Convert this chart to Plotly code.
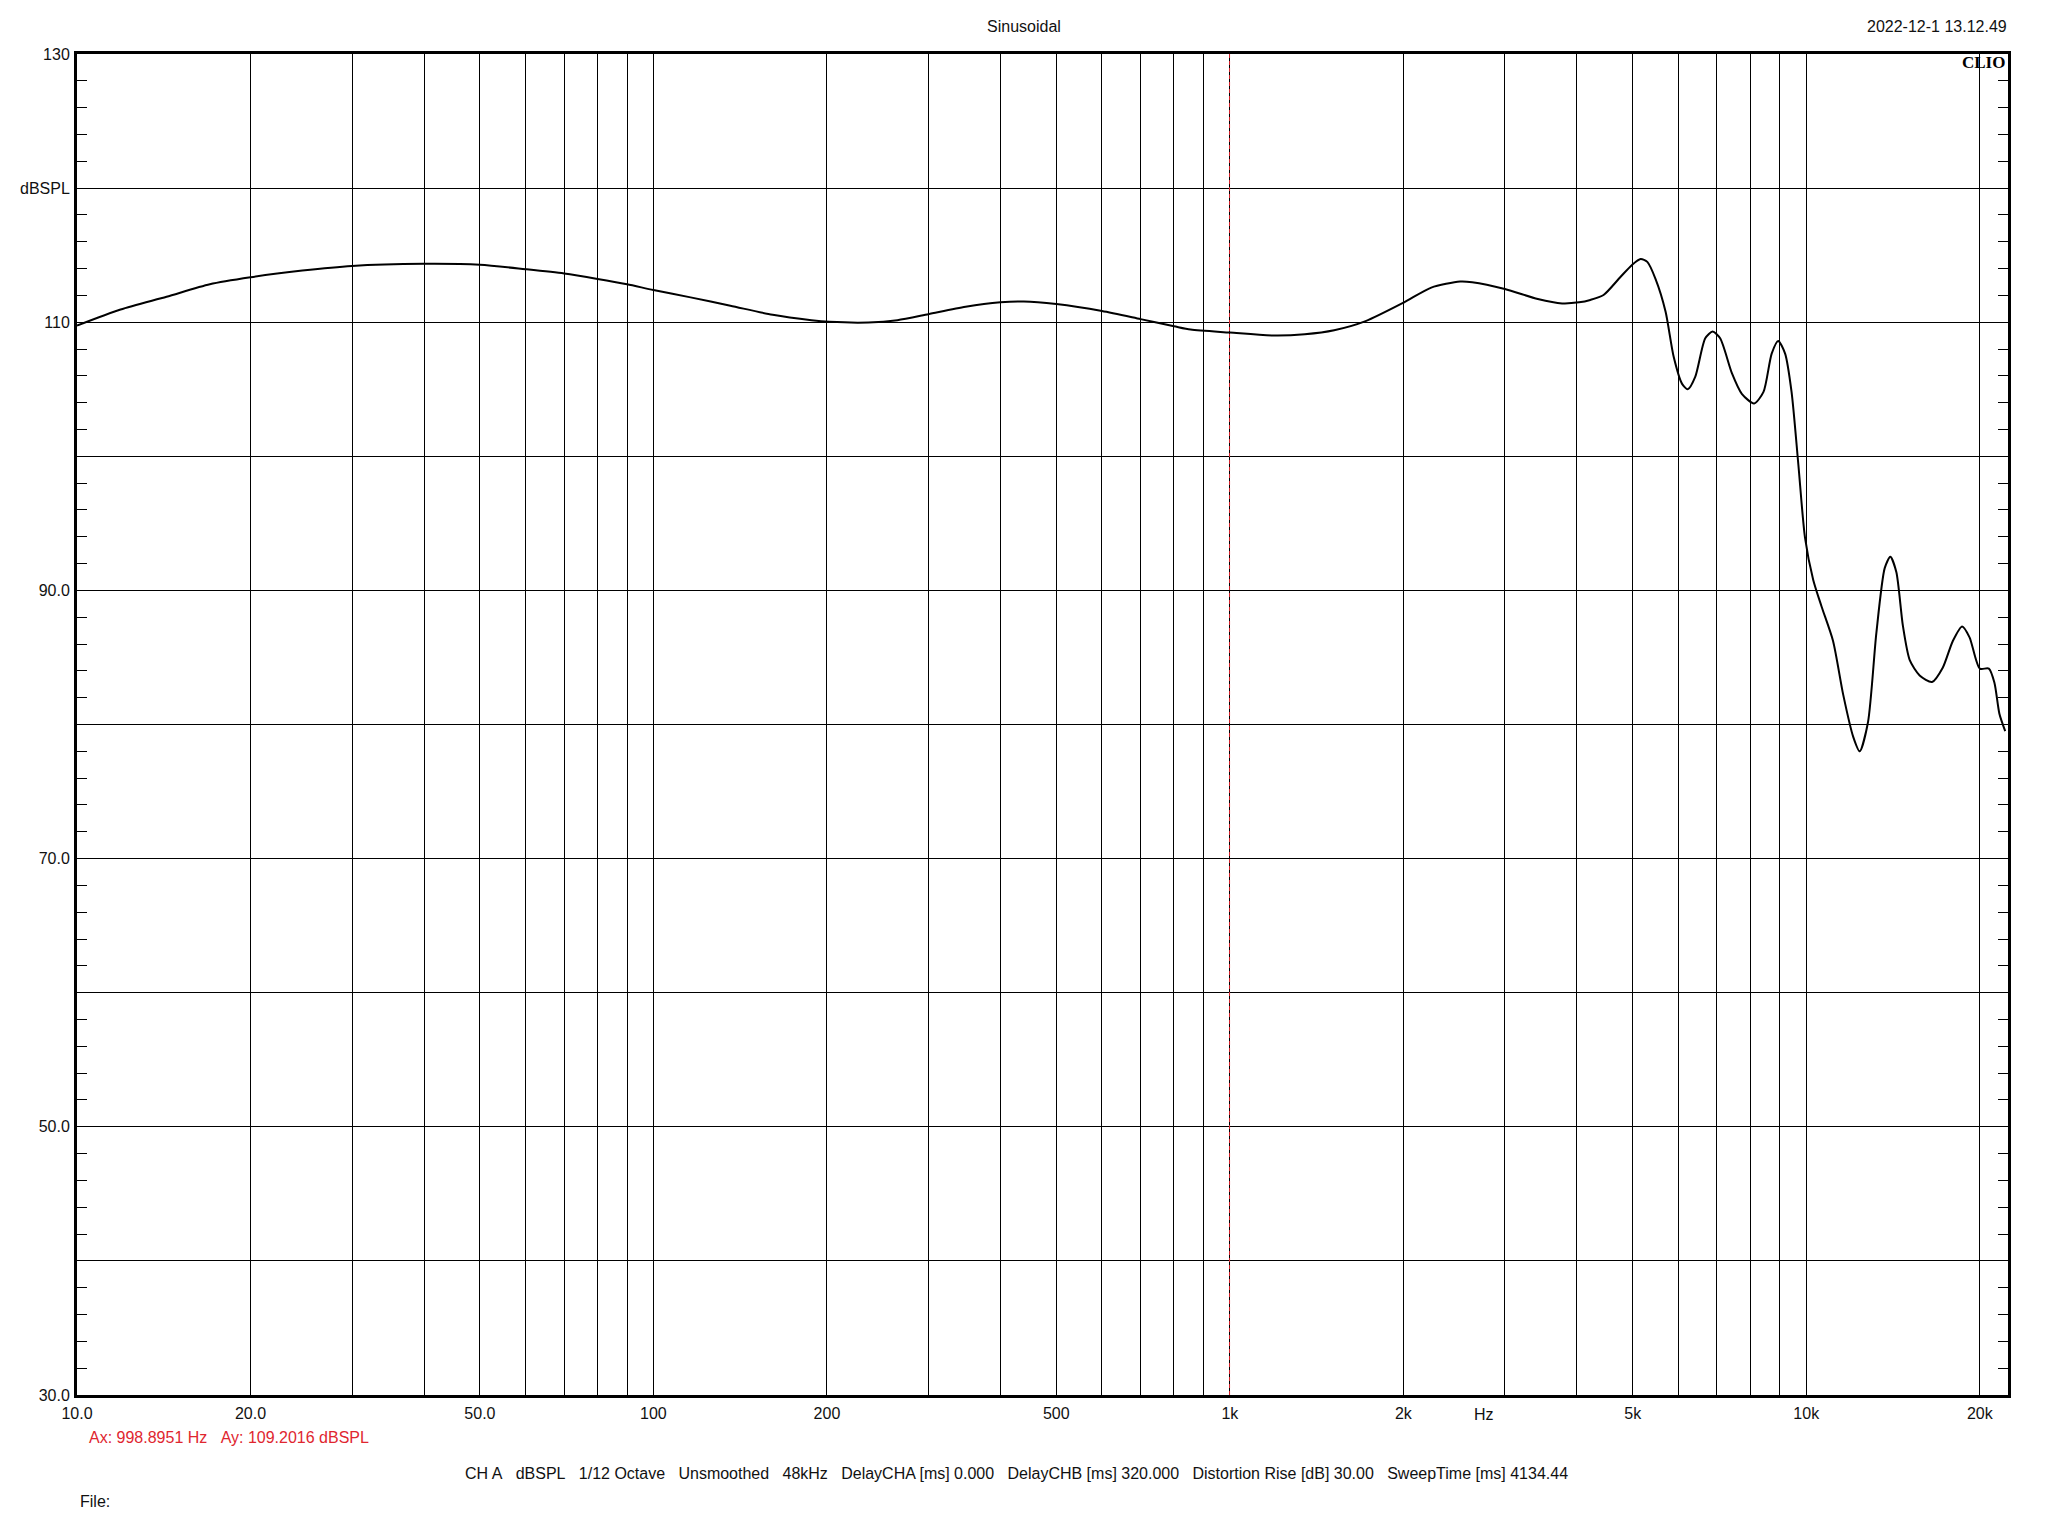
import plotly.graph_objects as go

# ---- data -------------------------------------------------------------
freq_hz = [10, 11.9, 14.3, 17.0, 20, 24.6, 30, 40, 50, 60, 70, 80, 90, 100, 116, 136, 161, 188,
           202, 236, 265, 300, 348, 400, 439, 500, 600, 700, 800, 855, 1000, 1201, 1349, 1517,
           1720, 2000, 2236, 2508, 2633, 3000, 3422, 3771, 4035, 4220, 4450, 4760, 4990, 5160,
           5300, 5480, 5700, 5890, 6090, 6230, 6420, 6680, 6880, 7090, 7430, 7730, 8120, 8430,
           8710, 8940, 9190, 9430, 9690, 9950, 10280, 10630, 11130, 11590, 12060, 12380, 12800,
           13230, 13680, 13990, 14330, 14710, 15120, 15730, 16530, 17250, 17960, 18640, 19200,
           20000, 20740, 21210, 21630, 22140]
spl_db = [109.75, 110.95, 111.9, 112.83, 113.35, 113.85, 114.2, 114.35, 114.28, 113.95, 113.63,
          113.23, 112.83, 112.4, 111.85, 111.23, 110.55, 110.15, 110.03, 109.98, 110.15, 110.6,
          111.15, 111.48, 111.55, 111.35, 110.83, 110.23, 109.7, 109.45, 109.23, 109.0, 109.1,
          109.4, 110.08, 111.45, 112.58, 113.03, 112.98, 112.48, 111.73, 111.4, 111.48, 111.66,
          112.03, 113.37, 114.29, 114.71, 114.5, 113.2, 110.8, 107.4, 105.4, 105.0, 105.94,
          108.8, 109.3, 108.8, 106.2, 104.66, 103.94, 104.8, 107.66, 108.6, 107.66, 104.8,
          99.37, 93.94, 90.8, 88.8, 86.23, 82.23, 79.1, 78.0, 80.2, 86.8, 91.66, 92.51, 91.37,
          87.37, 84.8, 83.66, 83.17, 84.23, 86.23, 87.31, 86.5, 84.17, 84.17, 83.1, 80.8, 79.5]

cursor_hz = 998.8951
cursor_db = 109.2016

x_tickvals = [20, 30, 40, 50, 60, 70, 80, 90, 100, 200, 300, 400, 500, 600, 700, 800, 900,
              1000, 2000, 3000, 4000, 5000, 6000, 7000, 8000, 9000, 10000, 20000, 10]
x_ticktext = ["20.0", "", "", "50.0", "", "", "", "", "100", "200", "", "", "500", "", "", "", "",
              "1k", "2k", "", "", "5k", "", "", "", "", "10k", "20k", "10.0"]
y_tickvals = [30, 40, 50, 60, 70, 80, 90, 100, 110, 120, 130]
y_ticktext = ["30.0", "", "50.0", "", "70.0", "", "90.0", "", "110", "dBSPL", "130"]

title_text = "Sinusoidal"
date_text = "2022-12-1 13.12.49"
status_text = ("CH A\u00a0\u00a0\u00a0dBSPL\u00a0\u00a0\u00a01/12 Octave\u00a0\u00a0\u00a0Unsmoothed\u00a0\u00a0\u00a048kHz"
               "\u00a0\u00a0\u00a0DelayCHA [ms] 0.000\u00a0\u00a0\u00a0DelayCHB [ms] 320.000"
               "\u00a0\u00a0\u00a0Distortion Rise [dB] 30.00\u00a0\u00a0\u00a0SweepTime [ms] 4134.44")

# ---- layout geometry (screen pixels; page body has an 8px margin) --------
OFF = 8
W, H = 2048 - 2 * OFF, 1536 - 2 * OFF
L, R, T, B = 77, 2008, 54, 1395


def px(x):
    return (x - L) / (R - L)


def py(y):
    return (B - y) / (B - T)


FONT = "Liberation Sans, Arial, sans-serif"

fig = go.Figure()

fig.add_trace(go.Scatter(x=[cursor_hz, cursor_hz], y=[30, 130], mode="lines",
                         line=dict(color="#e0262f", width=1, dash="4px,3px"),
                         hoverinfo="skip", showlegend=False))
fig.add_trace(go.Scatter(x=freq_hz, y=spl_db, mode="lines",
                         line=dict(color="black", width=2, shape="spline", smoothing=0.7),
                         showlegend=False))

fig.update_layout(
    width=W, height=H,
    margin=dict(l=L - OFF, r=(W + OFF) - R, t=T - OFF, b=(H + OFF) - B, pad=0),
    paper_bgcolor="white", plot_bgcolor="white",
    font=dict(family=FONT, size=16, color="#111"),
    showlegend=False,
)

fig.update_xaxes(
    type="log", range=[1, 4.35],
    tickmode="array", tickvals=x_tickvals, ticktext=x_ticktext,
    showgrid=True, gridcolor="black", gridwidth=1,
    showline=True, linecolor="black", linewidth=3, mirror=True,
    ticks="", ticklabelstandoff=2, zeroline=False,
    tickfont=dict(family=FONT, size=16, color="#111"),
)
fig.update_yaxes(
    range=[30, 130],
    tickmode="array", tickvals=y_tickvals, ticktext=y_ticktext,
    showgrid=True, gridcolor="black", gridwidth=1,
    showline=True, linecolor="black", linewidth=3, mirror="ticks",
    ticks="inside", ticklen=10, tickcolor="black", tickwidth=1,
    ticklabelstandoff=1, zeroline=False,
    tickfont=dict(family=FONT, size=16, color="#111"),
    minor=dict(tickmode="linear", tick0=30, dtick=2, ticks="inside", ticklen=10,
               tickcolor="black", tickwidth=1, showgrid=False),
)

ann = [
    dict(text=title_text, x=px(1024), y=py(26), xanchor="center", yanchor="middle"),
    dict(text=date_text, x=px(2009), y=py(27), xanchor="right", yanchor="middle"),
    dict(text="<b>CLIO</b>", x=px(2007), y=py(62), xanchor="right", yanchor="middle",
         font=dict(family="Liberation Serif, Times New Roman, serif", size=17, color="black")),
    dict(text="Hz", x=px(1484), y=py(1414), xanchor="center", yanchor="middle"),
    dict(text=f"Ax: {cursor_hz:.4f} Hz\u00a0\u00a0\u00a0Ay: {cursor_db:.4f} dBSPL",
         x=px(87), y=py(1438), xanchor="left", yanchor="middle",
         font=dict(family=FONT, size=16, color="#e0262f")),
    dict(text=status_text, x=px(1016), y=py(1473), xanchor="center", yanchor="middle"),
    dict(text="File:", x=px(78), y=py(1501), xanchor="left", yanchor="middle"),
]
for a in ann:
    a.update(xref="paper", yref="paper", showarrow=False)
    a.setdefault("font", dict(family=FONT, size=16, color="#111"))
    fig.add_annotation(**a)

fig.write_html("out.html")
